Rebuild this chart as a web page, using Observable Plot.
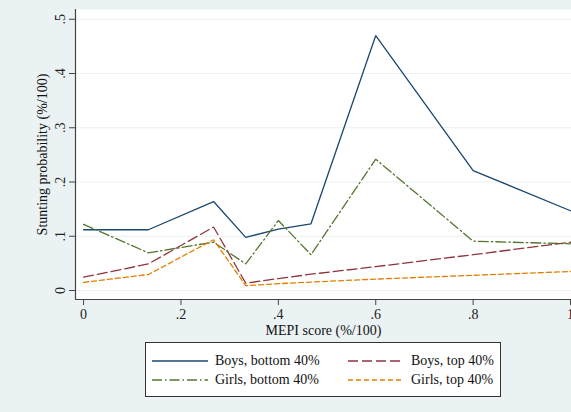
<!DOCTYPE html>
<html>
<head>
<meta charset="utf-8">
<script src="https://cdn.jsdelivr.net/npm/d3@7"></script>
<script src="https://cdn.jsdelivr.net/npm/@observablehq/plot@0.6"></script>
<style>
  html, body { margin: 0; padding: 0; background: #eaf2f3; overflow: hidden; }
  #wrap { position: relative; width: 571px; height: 412px; font-family: "Liberation Serif", "Times New Roman", serif; }
  #legend { position: absolute; left: 145px; top: 342px; width: 354px; height: 53px; background: #fff; border: 1px solid #333; }
  .item { position: absolute; display: flex; align-items: center; font-size: 14px; color: #111; }
  .item svg { margin-right: 7px; }
</style>
</head>
<body>
<div id="wrap"><div id="legend"></div></div>
<script>
// Data
const mepi = [0, 0.133, 0.267, 0.333, 0.4, 0.467, 0.6, 0.8, 1];
const boysBottom  = [0.112, 0.112, 0.164, 0.098, 0.113, 0.123, 0.470, 0.221, 0.147];
const boysTop     = [0.0245, 0.049, 0.117, 0.0135, 0.022, 0.030, 0.044, 0.066, 0.089];
const girlsBottom = [0.122, 0.0695, 0.089, 0.049, 0.129, 0.066, 0.242, 0.091, 0.086];
const girlsTop    = [0.015, 0.0295, 0.0935, 0.009, 0.0125, 0.0155, 0.021, 0.028, 0.035];
const seriesNames = ["Boys, bottom 40%", "Boys, top 40%", "Girls, bottom 40%", "Girls, top 40%"];
const seriesValues = [boysBottom, boysTop, girlsBottom, girlsTop];
const colors = ["#1a476f", "#90353b", "#55752f", "#e37e00"];
const dashes = [null, "10,4", "10,3,1.5,3", "5,3"];
const xTicks = [0, 0.2, 0.4, 0.6, 0.8, 1];
const yTicks = [0, 0.1, 0.2, 0.3, 0.4, 0.5];
const xDomain = [-0.0166, 1.002];
const yDomain = [-0.0166, 0.518];

const fmt = d => d === 0 ? "0" : d === 1 ? "1" : String(+d.toFixed(1)).replace(/^0\./, ".");

const rows = [];
seriesNames.forEach((s, i) => mepi.forEach((x, j) => rows.push({series: s, x, y: seriesValues[i][j]})));

const lineMarks = seriesNames.map((s, i) =>
  Plot.line(rows.filter(r => r.series === s), {
    x: "x", y: "y", stroke: colors[i], strokeWidth: 1.3,
    strokeDasharray: dashes[i], strokeLinejoin: "miter"
  })
);

const chart = Plot.plot({
  width: 571,
  height: 412,
  marginLeft: 75,
  marginRight: 0,
  marginTop: 9,
  marginBottom: 113,
  style: { background: "#eaf2f3", fontFamily: "Liberation Serif, Times New Roman, serif", fontSize: "14px", color: "#222", overflow: "hidden" },
  x: { domain: xDomain },
  y: { domain: yDomain },
  marks: [
    Plot.frame({ fill: "white", stroke: null }),
    Plot.gridY(yTicks, { stroke: "#eaf2f3", strokeOpacity: 1, strokeWidth: 1.2 }),
    ...lineMarks,
    Plot.ruleX([xDomain[0]], { stroke: "#444", strokeWidth: 1.2 }),
    Plot.ruleY([yDomain[0]], { stroke: "#444", strokeWidth: 1.2 }),
    Plot.axisY(yTicks, { tickFormat: fmt, tickSize: 6, tickPadding: 5, tickRotate: -90, label: null, fontSize: 14, stroke: "#444" }),
    Plot.axisX(xTicks, { tickFormat: fmt, tickSize: 6, tickPadding: 4, label: null, fontSize: 14, stroke: "#444" }),
    Plot.text(["MEPI score (%/100)"], { frameAnchor: "bottom", dy: 31, lineAnchor: "middle", textAnchor: "middle", fontSize: 14, fill: "#111" }),
    Plot.text(["Stunting probability (%/100)"], { frameAnchor: "left", dx: -33, rotate: -90, textAnchor: "middle", lineAnchor: "middle", fontSize: 14, fill: "#111" })
  ]
});
const wrap = document.getElementById("wrap");
wrap.insertBefore(chart, wrap.firstChild);

// Legend
const legend = document.getElementById("legend");
const pos = [[6, 11], [202, 11], [6, 30], [202, 30]];
seriesNames.forEach((s, i) => {
  const item = document.createElement("div");
  item.className = "item";
  item.style.left = pos[i][0] + "px";
  item.style.top = (pos[i][1] - 1) + "px";
  const ns = "http://www.w3.org/2000/svg";
  const svg = document.createElementNS(ns, "svg");
  svg.setAttribute("width", 56); svg.setAttribute("height", 12);
  const ln = document.createElementNS(ns, "line");
  ln.setAttribute("x1", 0); ln.setAttribute("x2", 56); ln.setAttribute("y1", 6); ln.setAttribute("y2", 6);
  ln.setAttribute("stroke", colors[i]); ln.setAttribute("stroke-width", 1.5);
  if (dashes[i]) ln.setAttribute("stroke-dasharray", dashes[i]);
  svg.appendChild(ln);
  item.appendChild(svg);
  const t = document.createElement("span");
  t.textContent = s;
  item.appendChild(t);
  legend.appendChild(item);
});
</script>
</body>
</html>
